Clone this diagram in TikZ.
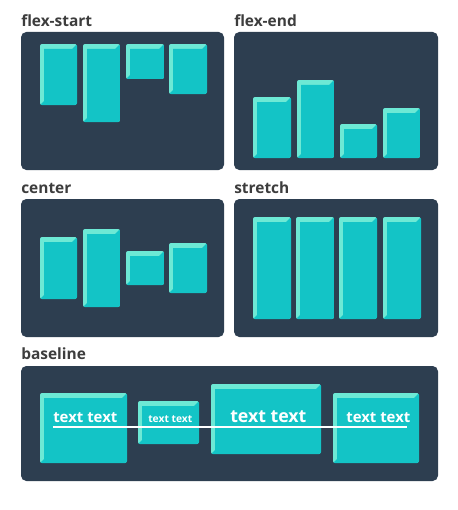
\documentclass[tikz,border=0pt]{standalone}
\usepackage{fontspec}
\setmainfont{Open Sans}
\definecolor{panel}{HTML}{2D3E50}
\definecolor{tealbox}{HTML}{13C4C6}
\definecolor{litebox}{HTML}{6DE9D5}
\definecolor{labelc}{HTML}{3D3D3D}
\newcommand\bevbox[5]{%
  \begin{scope}
    \clip[rounded corners=1.5] (#2,#3) rectangle ++(#4,#5);
    \fill[litebox] (#2,#3) rectangle ++(#4,#5);
    \fill[tealbox] (#2+4,#3+5) -- (#2+#4-5,#3+5) -- (#2+#4,#3) -- (#2+#4,#3+#5) -- (#2,#3+#5) -- (#2+4,#3+#5-4) -- cycle;
  \end{scope}
  \coordinate (#1) at (#2,#3);
}
\tikzset{
  paneltitle/.style={anchor=base west, inner sep=0, text=labelc, font=\fontsize{11.6}{13}\selectfont\bfseries},
  panelbg/.style={fill=panel, rounded corners=4},
  boxtext/.style={anchor=base west, inner sep=0, text=white, font=\bfseries}
}
\begin{document}
\begin{tikzpicture}[x=0.75pt, y=-0.75pt]
\useasboundingbox (0,0) rectangle (457,510);
% titles
\node[paneltitle] (t1) at (21,27) {flex-start};
\node[paneltitle] (t2) at (234,27) {flex-end};
\node[paneltitle] (t3) at (21,193) {center};
\node[paneltitle] (t4) at (234,193) {stretch};
\node[paneltitle] (t5) at (21,359) {baseline};
% panels
\fill[panelbg] (21,32) rectangle (224,170);
\fill[panelbg] (234,32) rectangle (438,170);
\fill[panelbg] (21,199) rectangle (224,337);
\fill[panelbg] (234,199) rectangle (438,337);
\fill[panelbg] (21,366) rectangle (438,481);
% flex-start
\bevbox{fs1}{40}{44}{37}{61}
\bevbox{fs2}{83}{44}{37}{78}
\bevbox{fs3}{126}{44}{38}{35}
\bevbox{fs4}{169}{44}{38}{50}
% flex-end
\bevbox{fe1}{253}{97}{38}{61}
\bevbox{fe2}{297}{80}{37}{78}
\bevbox{fe3}{340}{124}{37}{34}
\bevbox{fe4}{383}{108}{37}{50}
% center
\bevbox{c1}{40}{237}{37}{62}
\bevbox{c2}{83}{229}{37}{78}
\bevbox{c3}{126}{251}{38}{34}
\bevbox{c4}{169}{243}{38}{50}
% stretch
\bevbox{s1}{253}{217}{38}{102}
\bevbox{s2}{296}{217}{38}{102}
\bevbox{s3}{339}{217}{38}{102}
\bevbox{s4}{383}{217}{38}{102}
% baseline
\bevbox{b1}{40}{393}{87}{70}
\bevbox{b2}{138}{401}{61}{43}
\bevbox{b3}{211}{384}{110}{70}
\bevbox{b4}{333}{393}{86}{70}
\node[boxtext, font=\fontsize{11.2}{13}\selectfont\bfseries] (bt1) at (53,422) {text text};
\node[boxtext, font=\fontsize{7.7}{9}\selectfont\bfseries] (bt2) at (148,422) {text text};
\node[boxtext, font=\fontsize{13.3}{15}\selectfont\bfseries] (bt3) at (230,422) {text text};
\node[boxtext, font=\fontsize{11.2}{13}\selectfont\bfseries] (bt4) at (346,422) {text text};
\coordinate (lnA) at (53,427);
\coordinate (lnB) at (407,427);
\draw[white, line width=1.8pt] (lnA) -- (lnB);
\end{tikzpicture}
\end{document}
